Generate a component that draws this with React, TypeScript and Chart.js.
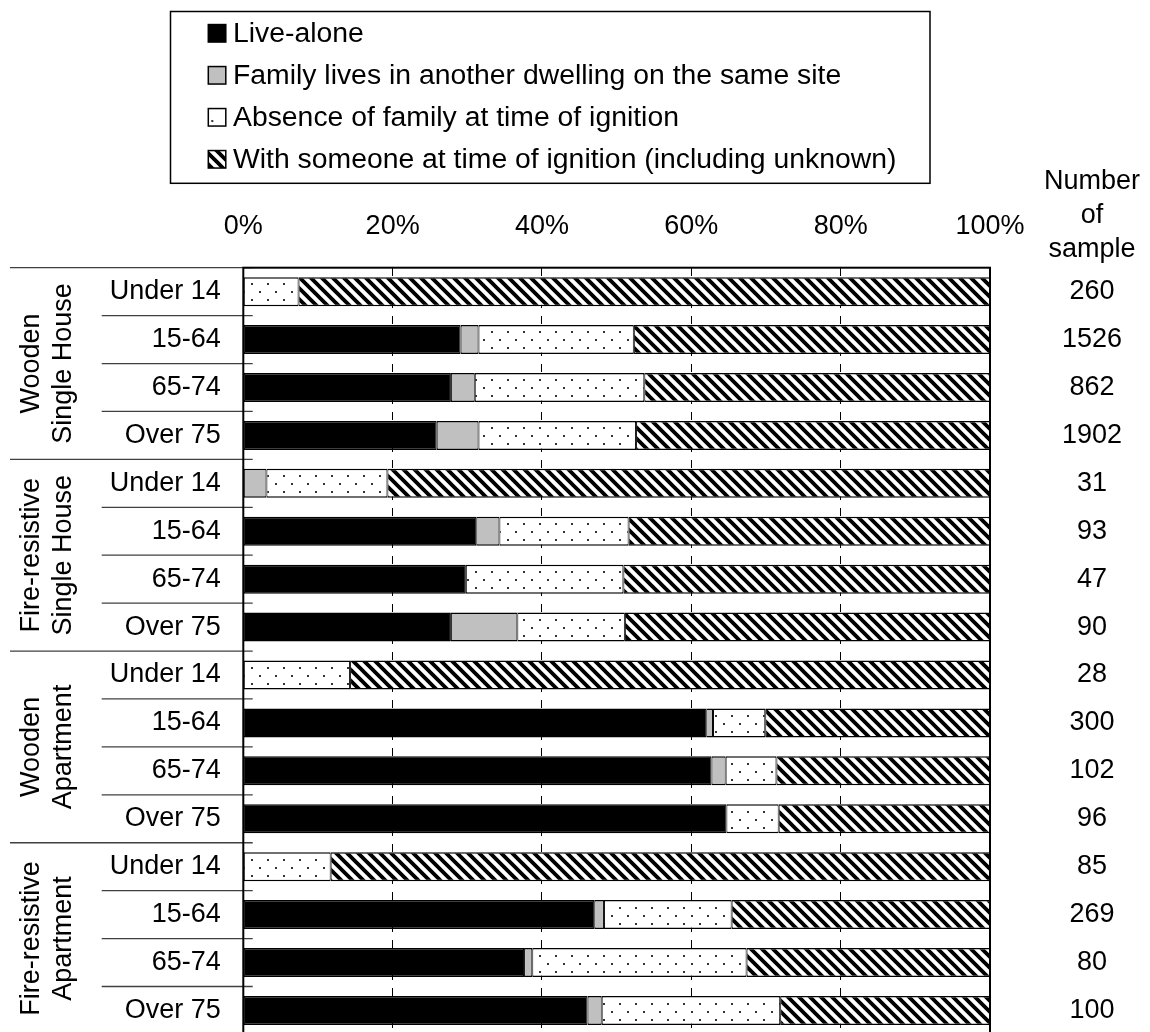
import { useEffect, useRef } from "react";
import { Chart, registerables } from "chart.js";

Chart.register(...registerables);

const FONT_FAMILY = '"Liberation Sans", Arial, Helvetica, sans-serif';

const categories = [
  "Under 14", "15-64", "65-74", "Over 75",
  "Under 14", "15-64", "65-74", "Over 75",
  "Under 14", "15-64", "65-74", "Over 75",
  "Under 14", "15-64", "65-74", "Over 75",
];

const buildingTypes = [
  ["Wooden", "Single House"],
  ["Fire-resistive", "Single House"],
  ["Wooden", "Apartment"],
  ["Fire-resistive", "Apartment"],
];

const sampleCounts = [
  "260", "1526", "862", "1902",
  "31", "93", "47", "90",
  "28", "300", "102", "96",
  "85", "269", "80", "100",
];

const sampleHeader = ["Number", "of", "sample"];

const seriesLabels = [
  "Live-alone",
  "Family lives in another dwelling on the same site",
  "Absence of family at time of ignition",
  "With someone at time of ignition (including unknown)",
];

const liveAlone = [0, 29.1, 27.8, 25.9, 0, 31.2, 29.8, 27.8, 0, 62.0, 62.7, 64.7, 0, 47.0, 37.6, 46.1];
const familySameSite = [0, 2.4, 3.2, 5.6, 3.1, 3.1, 0, 8.9, 0, 0.9, 1.9, 0, 0, 1.3, 1.1, 1.9];
const absentFamily = [7.4, 20.8, 22.7, 21.1, 16.2, 17.3, 21.1, 14.4, 14.3, 7.0, 6.8, 7.0, 11.7, 17.1, 28.7, 23.9];
const withSomeone = [92.6, 47.7, 46.3, 47.4, 80.7, 48.4, 49.1, 48.9, 85.7, 30.1, 28.6, 28.3, 88.3, 34.6, 32.6, 28.1];

function makeDots(): CanvasPattern | string {
  const c = document.createElement("canvas");
  c.width = 16;
  c.height = 16;
  const g = c.getContext("2d");
  if (!g) return "#fff";
  g.fillStyle = "#fff";
  g.fillRect(0, 0, 16, 16);
  g.fillStyle = "#333";
  g.fillRect(3, 3, 2, 2);
  g.fillRect(11, 11, 2, 2);
  return g.createPattern(c, "repeat") || "#fff";
}

function makeHatch(): CanvasPattern | string {
  const s = 11;
  const c = document.createElement("canvas");
  c.width = s;
  c.height = s;
  const g = c.getContext("2d");
  if (!g) return "#888";
  g.fillStyle = "#fff";
  g.fillRect(0, 0, s, s);
  g.strokeStyle = "#000";
  g.lineWidth = 3.8;
  g.beginPath();
  for (const k of [-1, 0, 1]) {
    g.moveTo(k * s - 3, -3);
    g.lineTo(k * s + s + 3, s + 3);
  }
  g.stroke();
  return g.createPattern(c, "repeat") || "#888";
}

const zeroPadding = (s: any) => {
  s.paddingTop = 0;
  s.paddingBottom = 0;
  s.paddingLeft = 0;
  s.paddingRight = 0;
};

const decorPlugin = {
  id: "decor",
  afterDatasetsDraw(chart: any) {
    const { ctx, chartArea: a } = chart;
    const y = chart.scales.y;
    const n = categories.length;
    const perGroup = 4;
    ctx.save();

    // separators on the left (category boundaries)
    ctx.strokeStyle = "#404040";
    ctx.lineWidth = 1.3;
    for (let k = 0; k < n; k++) {
      const yy = k === 0 ? a.top : (y.getPixelForValue(k - 1) + y.getPixelForValue(k)) / 2;
      const isGroup = k % perGroup === 0;
      ctx.beginPath();
      ctx.moveTo(isGroup ? 10 : 101.7, yy);
      ctx.lineTo(a.left + 9.4, yy);
      ctx.stroke();
    }

    // group labels (rotated)
    ctx.fillStyle = "#000";
    ctx.font = `27px ${FONT_FAMILY}`;
    ctx.textAlign = "center";
    ctx.textBaseline = "middle";
    buildingTypes.forEach((lines, gi) => {
      const cy = (y.getPixelForValue(gi * perGroup) + y.getPixelForValue(gi * perGroup + perGroup - 1)) / 2;
      ctx.save();
      ctx.translate(47.5, cy);
      ctx.rotate(-Math.PI / 2);
      ctx.fillText(lines[0], 0, -15.8);
      ctx.fillText(lines[1], 0, 15.8);
      ctx.restore();
    });

    // plot border
    ctx.strokeStyle = "#000";
    ctx.lineWidth = 2;
    ctx.strokeRect(a.left, a.top, a.right - a.left, a.bottom - a.top);

    // "Number of sample" header
    ctx.font = `27px ${FONT_FAMILY}`;
    ctx.textAlign = "center";
    ctx.textBaseline = "alphabetic";
    const hb = [188.5, 222.5, 256.5];
    sampleHeader.forEach((t, i) => ctx.fillText(t, 1092, hb[i]));

    // legend box
    ctx.lineWidth = 1.5;
    ctx.strokeStyle = "#000";
    ctx.strokeRect(170.5, 11.5, 759.5, 171.8);
    chart.data.datasets.forEach((ds: any, i: number) => {
      const cy = 33.3 + i * 42;
      const mx = 208.3;
      const ms = 17.5;
      const my = cy - ms / 2;
      if (i === 2) {
        ctx.fillStyle = "#fff";
        ctx.fillRect(mx, my, ms, ms);
        ctx.fillStyle = "#333";
        ctx.fillRect(mx + 3, my + ms - 6, 2, 2);
      } else {
        ctx.fillStyle = ds.backgroundColor;
        ctx.fillRect(mx, my, ms, ms);
      }
      ctx.lineWidth = 1.5;
      ctx.strokeStyle = "#000";
      ctx.strokeRect(mx, my, ms, ms);
      ctx.fillStyle = "#000";
      ctx.font = `27px ${FONT_FAMILY}`;
      ctx.textAlign = "left";
      ctx.textBaseline = "middle";
      ctx.save();
      ctx.translate(233, cy + 1);
      ctx.scale(1.05, 1);
      ctx.fillText(ds.label, 0, 0);
      ctx.restore();
    });

    ctx.restore();
  },
};

export default function App() {
  const ref = useRef<HTMLCanvasElement | null>(null);

  useEffect(() => {
    if (!ref.current) return;
    const dots = makeDots();
    const hatch = makeHatch();
    const common = {
      borderColor: "#000",
      borderWidth: { top: 1.5, bottom: 1.5, left: 1, right: 1 },
      borderSkipped: false,
      barPercentage: 0.605,
      categoryPercentage: 1,
    };
    const tickFont = { family: FONT_FAMILY, size: 27 };
    const chart = new Chart(ref.current, {
      type: "bar",
      data: {
        labels: categories,
        datasets: [
          { label: seriesLabels[0], data: liveAlone, backgroundColor: "#000", ...common },
          { label: seriesLabels[1], data: familySameSite, backgroundColor: "#c0c0c0", ...common },
          { label: seriesLabels[2], data: absentFamily, backgroundColor: dots, ...common },
          { label: seriesLabels[3], data: withSomeone, backgroundColor: hatch, ...common },
        ],
      } as any,
      options: {
        indexAxis: "y",
        responsive: false,
        animation: false,
        layout: { padding: { top: 0, left: 0, right: 0, bottom: 5.6 } },
        plugins: { legend: { display: false }, tooltip: { enabled: false } },
        scales: {
          x: {
            type: "linear",
            position: "top",
            stacked: true,
            min: 0,
            max: 100,
            ticks: {
              stepSize: 20,
              callback: (v: any) => `${v}%`,
              font: tickFont,
              color: "#000",
              padding: 24.5,
              maxRotation: 0,
            },
            grid: { color: "#000", lineWidth: 1, drawTicks: false },
            border: { display: false, dash: [8, 8] },
            afterFit: (s: any) => {
              s.height = 267.7;
              zeroPadding(s);
            },
          },
          y: {
            type: "category",
            position: "left",
            stacked: true,
            offset: true,
            ticks: { font: tickFont, color: "#000", padding: 22.6, autoSkip: false },
            grid: { display: false, drawTicks: false },
            border: { display: false },
            afterFit: (s: any) => {
              s.width = 243.3;
              zeroPadding(s);
            },
          },
          y2: {
            type: "category",
            labels: sampleCounts,
            position: "right",
            offset: true,
            ticks: { font: tickFont, color: "#000", padding: 72, crossAlign: "center", autoSkip: false },
            grid: { display: false, drawTicks: false },
            border: { display: false },
            afterFit: (s: any) => {
              s.width = 160;
              zeroPadding(s);
            },
          },
        },
      } as any,
      plugins: [decorPlugin],
    });
    return () => chart.destroy();
  }, []);

  return (
    <div style={{ position: "fixed", left: 0, top: 0, width: 1150, height: 1040, background: "#fff" }}>
      <canvas ref={ref} width={1150} height={1040} style={{ display: "block" }} />
    </div>
  );
}
